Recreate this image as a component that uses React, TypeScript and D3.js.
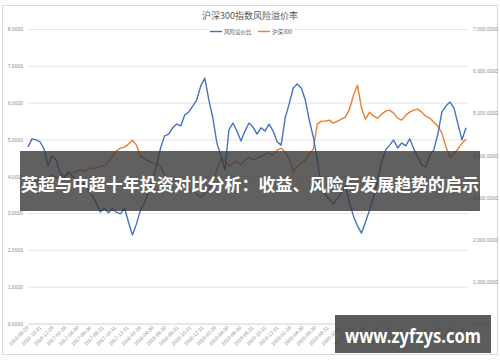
import React from "react";
import * as d3 from "d3";

const chartTitle = "沪深300指数风险溢价率";
const seriesNames = ["风险溢价比", "沪深300"];
const seriesColors = ["#4472C4", "#ED7D31"];

const xTickLabels = [
  "2016-08-29", "2016-10-31", "2016-12-29", "2017-02-28", "2017-04-30", "2017-06-30",
  "2017-08-31", "2017-10-31", "2017-12-31", "2018-02-28", "2018-04-30", "2018-06-30",
  "2018-08-31", "2018-10-31", "2018-12-31", "2019-02-28", "2019-04-30", "2019-06-30",
  "2019-08-31", "2019-10-31", "2019-12-31", "2020-02-28", "2020-04-30", "2020-06-30",
  "2020-08-31", "2020-10-31", "2020-12-31", "2021-02-28", "2021-04-30", "2021-06-30",
  "2021-08-31", "2021-10-31", "2021-12-31", "2022-02-28", "2022-04-30", "2022-06-30",
];

const leftTicks = [0, 1, 2, 3, 4, 5, 6, 7, 8];
const rightTicks = [0, 1000, 2000, 3000, 4000, 5000, 6000, 7000];

const riskPremium = [
  4.81, 5.03, 5.0, 4.95, 4.75, 4.29, 4.57, 4.46, 4.1, 3.99,
  4.13, 4.02, 3.91, 3.78, 3.83, 3.64, 3.48, 3.29, 3.04, 3.15,
  3.02, 3.13, 3.04, 2.99, 3.15, 2.77, 2.42, 2.72, 3.1, 3.29,
  3.59, 3.91, 4.32, 4.78, 5.11, 5.16, 5.33, 5.43, 5.38, 5.68,
  5.76, 5.92, 6.09, 6.47, 6.68, 6.09, 5.6, 4.92, 4.57, 4.18,
  5.27, 5.46, 5.24, 4.97, 5.24, 5.46, 5.35, 5.16, 5.33, 5.24,
  5.43, 5.24, 4.95, 4.86, 5.6, 5.98, 6.41, 6.52, 6.41, 6.09,
  5.54, 5.08, 4.46, 3.75, 3.51, 3.4, 3.26, 3.42, 3.56, 3.75,
  3.29, 2.93, 2.66, 2.47, 2.77, 3.1, 3.45, 3.91, 4.4, 4.73,
  4.86, 5.0, 4.78, 4.92, 4.84, 5.03, 4.76, 4.54, 4.32, 4.27,
  4.59, 4.73, 5.16, 5.76, 5.92, 6.03, 5.87, 5.43, 5.0, 5.33,
];

const csi300 = [
  3467, 3420, 3373, 3467, 3396, 3491, 3539, 3467, 3515, 3467,
  3563, 3586, 3634, 3658, 3634, 3681, 3705, 3705, 3753, 3753,
  3871, 3990, 4109, 4180, 4204, 4275, 4370, 4251, 3990, 3919,
  3871, 3824, 3824, 3753, 3539, 3491, 3444, 3420, 3349, 3278,
  3206, 3159, 3088, 3016, 3088, 3206, 3349, 3658, 3919, 3895,
  3753, 3824, 3871, 3776, 3895, 3966, 3895, 3943, 3990, 4038,
  4061, 4014, 4133, 4180, 4085, 3919, 3634, 3729, 3824, 3895,
  4038, 4156, 4750, 4821, 4821, 4845, 4774, 4821, 4869, 4916,
  5106, 5439, 5676, 5130, 4869, 5035, 4940, 4893, 4988, 5059,
  5083, 5011, 4893, 4845, 4964, 5035, 5083, 5106, 5035, 4940,
  4893, 4798, 4703, 4536, 4204, 3966, 4061, 4156, 4299, 4394,
];

const bannerText = "英超与中超十年投资对比分析：收益、风险与发展趋势的启示";
const watermarkText = "www.zyfzys.com";

const fmtLeft = (v: number) => v.toFixed(4);
const fmtRight = (v: number) => d3.format(",.4f")(v);

export default function App() {
  const W = 500;
  const H = 362;
  const plot = { left: 28, right: 466, top: 29.5, bottom: 324 };

  const x = d3.scaleLinear().domain([0, riskPremium.length - 1]).range([plot.left, plot.right]);
  const yL = d3.scaleLinear().domain([0, 8]).range([plot.bottom, plot.top]);
  const yR = d3.scaleLinear().domain([0, 7000]).range([plot.bottom, plot.top]);
  const xLab = d3.scalePoint<string>().domain(xTickLabels).range([28, 465.5]);

  const lineL = d3.line<number>().x((_, i) => x(i)).y((d) => yL(d));
  const lineR = d3.line<number>().x((_, i) => x(i)).y((d) => yR(d));

  const axisFont = "'Liberation Sans', Arial, sans-serif";
  const cjkFont = "'Noto Sans CJK SC', 'Noto Sans', sans-serif";

  return (
    <svg
      width={W}
      height={H}
      style={{ position: "absolute", left: 0, top: 0, display: "block", background: "#fff" }}
    >
      <rect x={2.5} y={5.5} width={495} height={349} fill="#fff" stroke="#d9d9d9" strokeWidth={1} />

      {/* gridlines */}
      {leftTicks.map((t) => (
        <line
          key={"g" + t}
          x1={plot.left}
          x2={468}
          y1={yL(t)}
          y2={yL(t)}
          stroke={t === 0 ? "#d0d0d0" : "#e4e4e4"}
          strokeWidth={1}
        />
      ))}

      {/* left axis labels */}
      {leftTicks.map((t) => (
        <text
          key={"l" + t}
          x={23}
          y={yL(t) + 1.8}
          textAnchor="end"
          fontSize={5}
          fill="#8c8c8c"
          fontFamily={axisFont}
        >
          {fmtLeft(t)}
        </text>
      ))}

      {/* right axis labels */}
      {rightTicks.map((t) => (
        <text
          key={"r" + t}
          x={473}
          y={yR(t) + 1.8}
          textAnchor="start"
          fontSize={5}
          fill="#8c8c8c"
          fontFamily={axisFont}
        >
          {fmtRight(t)}
        </text>
      ))}

      {/* x labels */}
      {xTickLabels.map((d) => (
        <text
          key={d}
          transform={`translate(${xLab(d)! + 1},${plot.bottom + 4}) rotate(-45)`}
          textAnchor="end"
          fontSize={5}
          fill="#8c8c8c"
          fontFamily={axisFont}
        >
          {d}
        </text>
      ))}

      {/* series */}
      <path d={lineR(csi300) || ""} fill="none" stroke={seriesColors[1]} strokeWidth={1.4} strokeLinejoin="round" />
      <path d={lineL(riskPremium) || ""} fill="none" stroke={seriesColors[0]} strokeWidth={1.4} strokeLinejoin="round" />

      {/* title */}
      <text x={250} y={19} textAnchor="middle" fontSize={9} fill="#595959" fontFamily={cjkFont}>
        {chartTitle}
      </text>

      {/* legend */}
      <rect x={207} y={27} width={88} height={8} fill="#fff" />
      <line x1={210} x2={222} y1={31.5} y2={31.5} stroke={seriesColors[0]} strokeWidth={1.4} />
      <text x={224} y={33.5} fontSize={5.5} fill="#595959" fontFamily={cjkFont}>
        {seriesNames[0]}
      </text>
      <line x1={258} x2={270} y1={31.5} y2={31.5} stroke={seriesColors[1]} strokeWidth={1.4} />
      <text x={272} y={33.5} fontSize={5.5} fill="#595959" fontFamily={cjkFont}>
        {seriesNames[1]}
      </text>

      {/* banner overlay */}
      <rect x={20} y={151} width={460} height={60} fill="#383838" fillOpacity={0.8} />
      <text
        x={250}
        y={191}
        textAnchor="middle"
        fontSize={17}
        fontWeight="bold"
        fill="#fff"
        fontFamily={cjkFont}
        textLength={458}
        lengthAdjust="spacingAndGlyphs"
      >
        {bannerText}
      </text>

      {/* watermark */}
      <rect x={335} y={315} width={156} height={38} fill="#404040" fillOpacity={0.85} />
      <text
        x={413}
        y={343}
        textAnchor="middle"
        fontSize={19}
        fontWeight="bold"
        fill="#fff"
        fontFamily="'Noto Sans', 'DejaVu Sans', sans-serif"
        textLength={136}
        lengthAdjust="spacingAndGlyphs"
      >
        {watermarkText}
      </text>
    </svg>
  );
}
